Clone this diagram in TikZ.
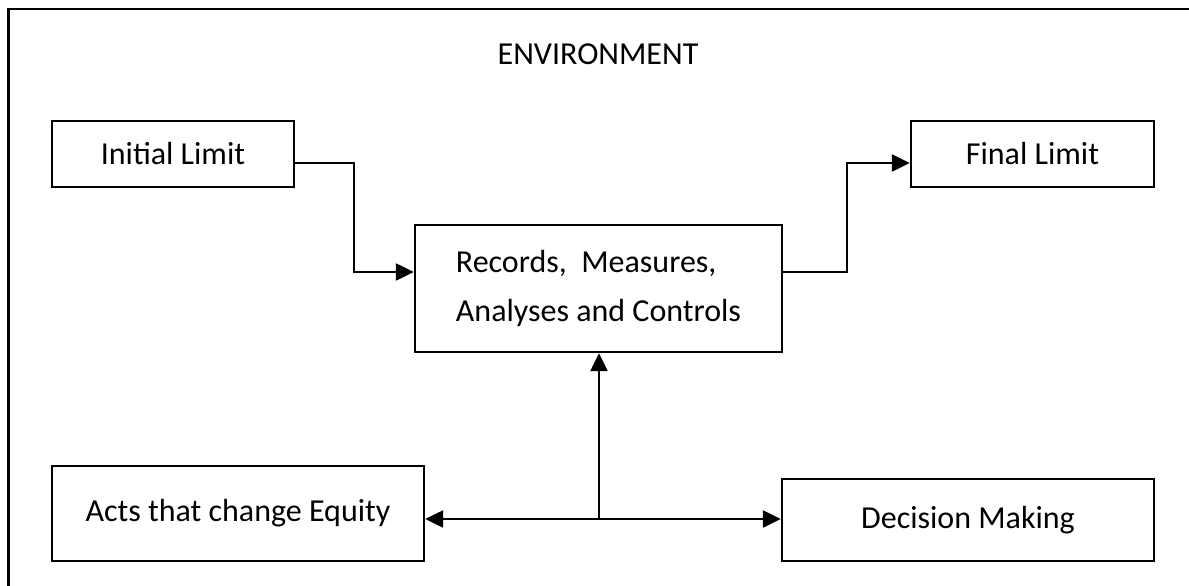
\documentclass[tikz,border=0pt]{standalone}
\usepackage{fontspec}
\setmainfont{Carlito}
\usetikzlibrary{arrows.meta}
\begin{document}
\begin{tikzpicture}[x=1pt,y=1pt,
  box/.style={draw, line width=2.4pt, inner sep=0pt, font=\fontsize{32}{49}\selectfont},
  arr/.style={line width=2.4pt, -{Triangle[length=18pt,width=17pt]}}]
\useasboundingbox (0,0) rectangle (1189,-586);
\clip (0,0) rectangle (1189,-586);
\fill[white] (0,0) rectangle (1189,-586);
\draw[line width=2.4pt] (8.5,-620) -- (8.5,-9) -- (1220,-9);
\node[anchor=base, font=\fontsize{32}{39}\selectfont] (env) at (598,-65) {ENVIRONMENT};
\node[box, minimum width=242pt, minimum height=66pt] (init) at (173,-154) {Initial Limit};
\node[box, minimum width=243pt, minimum height=66pt] (final) at (1032.5,-154) {Final Limit};
\node[box, minimum width=367pt, minimum height=127pt, align=left] (main) at (598.5,-288.5) {Records,\ \ Measures,\\Analyses and Controls};
\node[box, minimum width=372pt, minimum height=95pt] (acts) at (238,-513.5) {Acts that change Equity};
\node[box, minimum width=372pt, minimum height=82pt] (dec) at (968,-520) {Decision Making};
\coordinate (j1) at (354,-272);
\coordinate (j2) at (847,-272);
\coordinate (j3) at (599,-519);
\draw[arr] ([yshift=-9pt]init.east) -| (j1) -- (j1 -| main.west);
\draw[arr] (j2 -| main.east) -- (j2) |- ([yshift=-9pt]final.west);
\draw[arr] (j3) -- (j3 |- main.south);
\draw[arr] (j3) -- (j3 -| acts.east);
\draw[arr] (j3) -- (j3 -| dec.west);
\end{tikzpicture}
\end{document}
